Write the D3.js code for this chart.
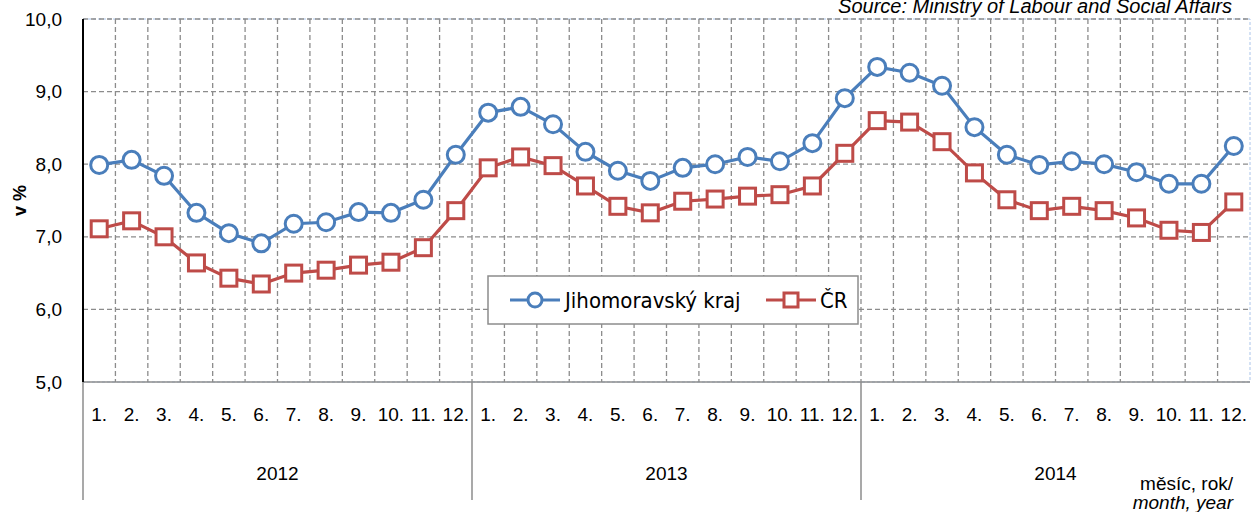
<!DOCTYPE html>
<html><head><meta charset="utf-8">
<script src="https://cdn.jsdelivr.net/npm/d3@7"></script>
<style>body{margin:0;background:#fff}svg{display:block}</style>
</head><body>
<svg id="c" width="1252" height="512"></svg>
<script>
const years = ["2012","2013","2014"];
const months = ["1.","2.","3.","4.","5.","6.","7.","8.","9.","10.","11.","12."];
const jihomoravsky = [7.99,8.06,7.84,7.33,7.05,6.91,7.18,7.20,7.34,7.33,7.51,8.13,
  8.71,8.79,8.55,8.17,7.91,7.77,7.95,8.00,8.10,8.04,8.29,8.91,
  9.34,9.26,9.08,8.51,8.13,7.99,8.04,8.00,7.89,7.73,7.73,8.25];
const cr = [7.11,7.22,7.00,6.64,6.43,6.35,6.50,6.54,6.61,6.65,6.85,7.36,
  7.95,8.10,7.98,7.70,7.42,7.33,7.49,7.52,7.56,7.58,7.70,8.15,
  8.60,8.58,8.31,7.88,7.51,7.36,7.42,7.36,7.26,7.09,7.06,7.48];
const yTicks = [5,6,7,8,9,10];
const seriesNames = ["Jihomoravský kraj","ČR"];

const svg = d3.select("#c");
const L = 83, R = 1250, T = 19, B = 382;
const cats = [];
years.forEach(y => months.forEach(m => cats.push(y + "-" + m)));
const x = d3.scaleBand().domain(cats).range([L, R]);
const y = d3.scaleLinear().domain([5, 10]).range([B, T]);
const blue = "#4a7ebb", red = "#be4b48";
const font = "Liberation Sans, Arial, sans-serif";
const lfont = "DejaVu Sans Condensed, DejaVu Sans, sans-serif";

// plot border (light blue dashed)
svg.append("rect").attr("x", L).attr("y", T).attr("width", R - L).attr("height", B - T)
  .attr("fill", "none").attr("stroke", "#a9c4eb").attr("stroke-dasharray", "3,2").attr("stroke-width", 1);

// horizontal gridlines
svg.append("g").selectAll("line").data(yTicks.filter(d => d > 5)).join("line")
  .attr("x1", L).attr("x2", R).attr("y1", d => y(d)).attr("y2", d => y(d))
  .attr("stroke", "#8c8c8c").attr("stroke-width", 1.3).attr("stroke-dasharray", "5,3");
// vertical gridlines at category boundaries
svg.append("g").selectAll("line").data(cats.slice(1)).join("line")
  .attr("x1", d => x(d)).attr("x2", d => x(d)).attr("y1", T).attr("y2", B)
  .attr("stroke", "#8c8c8c").attr("stroke-width", 1.3).attr("stroke-dasharray", "5,3");

// x axis line
svg.append("line").attr("x1", L).attr("x2", R).attr("y1", B).attr("y2", B)
  .attr("stroke", "#8c8c8c").attr("stroke-width", 1.5);
// year separators
const yearBounds = [cats[0], cats[12], cats[24]];
svg.append("g").selectAll("line").data(yearBounds).join("line")
  .attr("x1", d => x(d)).attr("x2", d => x(d)).attr("y1", B).attr("y2", 500)
  .attr("stroke", "#8c8c8c").attr("stroke-width", 1.5);
// left axis
svg.append("line").attr("x1", L).attr("x2", L).attr("y1", T).attr("y2", B)
  .attr("stroke", "#000").attr("stroke-width", 2);

// y tick labels
svg.append("g").selectAll("text").data(yTicks).join("text")
  .attr("x", 62).attr("y", d => y(d)).attr("dy", "0.35em").attr("text-anchor", "end")
  .attr("font-family", font).attr("font-size", 19).text(d => d.toFixed(1).replace(".", ","));
svg.append("text").attr("transform", "translate(26," + (y(7.5)) + ") rotate(-90)")
  .attr("text-anchor", "middle").attr("font-family", font).attr("font-size", 18)
  .attr("font-weight", "bold").text("v %");

// month labels
svg.append("g").selectAll("text").data(cats).join("text")
  .attr("x", d => x(d) + x.bandwidth() / 2).attr("y", 421).attr("text-anchor", "middle")
  .attr("font-family", font).attr("font-size", 19).text(d => d.split("-")[1]);
// year labels
svg.append("g").selectAll("text").data(years).join("text")
  .attr("x", (d, i) => (x(cats[i * 12]) + x(cats[i * 12 + 11]) + x.bandwidth()) / 2)
  .attr("y", 480).attr("text-anchor", "middle")
  .attr("font-family", font).attr("font-size", 19).text(d => d);

// source
svg.append("text").attr("x", 1232).attr("y", 13).attr("text-anchor", "end")
  .attr("font-family", font).attr("font-size", 20).attr("font-style", "italic")
  .text("Source: Ministry of Labour and Social Affairs");
svg.append("text").attr("x", 1233).attr("y", 490).attr("text-anchor", "end")
  .attr("font-family", font).attr("font-size", 19).text("měsíc, rok/");
svg.append("text").attr("x", 1233).attr("y", 509).attr("text-anchor", "end")
  .attr("font-family", font).attr("font-size", 19).attr("font-style", "italic").text("month, year");

const cx = (d, i) => x(cats[i]) + x.bandwidth() / 2;
const line = d3.line().x(cx).y(d => y(d));

svg.append("path").datum(jihomoravsky).attr("d", line).attr("fill", "none")
  .attr("stroke", blue).attr("stroke-width", 3.2);
svg.append("path").datum(cr).attr("d", line).attr("fill", "none")
  .attr("stroke", red).attr("stroke-width", 3.2);

svg.append("g").selectAll("circle").data(jihomoravsky).join("circle")
  .attr("cx", cx).attr("cy", d => y(d)).attr("r", 8.5)
  .attr("fill", "#fff").attr("stroke", blue).attr("stroke-width", 3);
svg.append("g").selectAll("rect").data(cr).join("rect")
  .attr("x", (d, i) => cx(d, i) - 8).attr("y", d => y(d) - 8).attr("width", 16).attr("height", 16)
  .attr("fill", "#fff").attr("stroke", red).attr("stroke-width", 3);

// legend
const lg = svg.append("g");
lg.append("rect").attr("x", 488).attr("y", 276).attr("width", 370).attr("height", 48)
  .attr("fill", "#fff").attr("stroke", "#8c8c8c").attr("stroke-width", 1.5);
const ly = 300;
lg.append("line").attr("x1", 510).attr("x2", 560).attr("y1", ly).attr("y2", ly).attr("stroke", blue).attr("stroke-width", 3.2);
lg.append("circle").attr("cx", 535).attr("cy", ly).attr("r", 7).attr("fill", "#fff").attr("stroke", blue).attr("stroke-width", 3);
lg.append("text").attr("x", 565).attr("y", ly).attr("dy", "0.36em").attr("font-family", lfont)
  .attr("font-size", 22).text(seriesNames[0]);
lg.append("line").attr("x1", 766).attr("x2", 816).attr("y1", ly).attr("y2", ly).attr("stroke", red).attr("stroke-width", 3.2);
lg.append("rect").attr("x", 784).attr("y", ly - 7).attr("width", 14).attr("height", 14).attr("fill", "#fff").attr("stroke", red).attr("stroke-width", 3);
lg.append("text").attr("x", 820).attr("y", ly).attr("dy", "0.36em").attr("font-family", lfont)
  .attr("font-size", 22).text(seriesNames[1]);
</script>
</body></html>
